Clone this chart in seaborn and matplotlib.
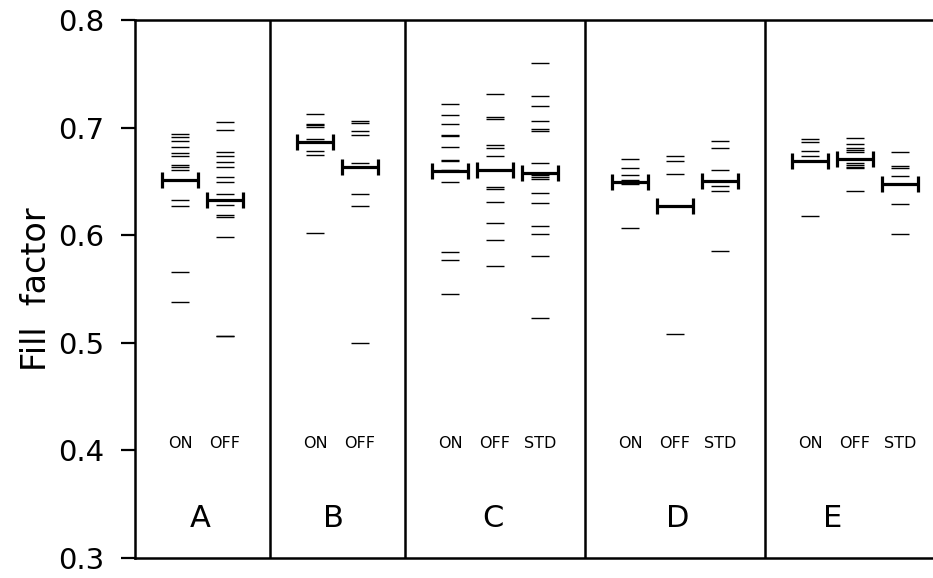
"""
Fill factor per sample set: individual cells as dashes, mean as capped bar.
"""
import numpy as np
import pandas as pd
import matplotlib
matplotlib.use("Agg")
import matplotlib.pyplot as plt
import seaborn as sns

# panel letters and the conditions measured in each
panels = ["A", "B", "C", "D", "E"]
conditions = {
    "A": ["ON", "OFF"],
    "B": ["ON", "OFF"],
    "C": ["ON", "OFF", "STD"],
    "D": ["ON", "OFF", "STD"],
    "E": ["ON", "OFF", "STD"],
}

# individual fill factors
ff_A_on = [0.694, 0.691, 0.688, 0.682, 0.676, 0.674, 0.665, 0.663, 0.661,
           0.633, 0.627, 0.566, 0.538]
ff_A_off = [0.705, 0.698, 0.677, 0.674, 0.668, 0.663, 0.654, 0.649, 0.638,
            0.628, 0.619, 0.617, 0.598, 0.506, 0.506]
ff_B_on = [0.713, 0.703, 0.702, 0.701, 0.689, 0.678, 0.675, 0.602]
ff_B_off = [0.706, 0.704, 0.697, 0.693, 0.667, 0.638, 0.627, 0.500]
ff_C_on = [0.722, 0.712, 0.703, 0.693, 0.692, 0.682, 0.670, 0.669, 0.661,
           0.649, 0.584, 0.577, 0.545]
ff_C_off = [0.731, 0.710, 0.708, 0.684, 0.681, 0.674, 0.645, 0.643, 0.631,
            0.611, 0.596, 0.571]
ff_C_std = [0.760, 0.729, 0.720, 0.706, 0.699, 0.697, 0.667, 0.656, 0.654,
            0.652, 0.639, 0.630, 0.609, 0.601, 0.581, 0.523]
ff_D_on = [0.671, 0.662, 0.656, 0.651, 0.649, 0.648, 0.607]
ff_D_off = [0.674, 0.669, 0.657, 0.508]
ff_D_std = [0.688, 0.681, 0.661, 0.646, 0.641, 0.585]
ff_E_on = [0.689, 0.687, 0.678, 0.674, 0.669, 0.618]
ff_E_off = [0.690, 0.685, 0.681, 0.679, 0.677, 0.667, 0.665, 0.663, 0.662,
            0.641]
ff_E_std = [0.677, 0.664, 0.662, 0.655, 0.629, 0.601]

# group means (capped bars)
means = {
    "A": [0.651, 0.633],
    "B": [0.687, 0.663],
    "C": [0.660, 0.661, 0.658],
    "D": [0.649, 0.627, 0.650],
    "E": [0.669, 0.671, 0.648],
}

values = {
    ("A", "ON"): ff_A_on, ("A", "OFF"): ff_A_off,
    ("B", "ON"): ff_B_on, ("B", "OFF"): ff_B_off,
    ("C", "ON"): ff_C_on, ("C", "OFF"): ff_C_off, ("C", "STD"): ff_C_std,
    ("D", "ON"): ff_D_on, ("D", "OFF"): ff_D_off, ("D", "STD"): ff_D_std,
    ("E", "ON"): ff_E_on, ("E", "OFF"): ff_E_off, ("E", "STD"): ff_E_std,
}

# small nudges of the panel letters relative to the panel centre
letter_shift = [-0.05, -0.1, -0.05, 0.05, -0.5]

# x layout: one slot per condition plus one spare slot per panel
rows, mean_rows, dividers, label_pos = [], [], [], []
start = 0
for k, p in enumerate(panels):
    conds = conditions[p]
    for i, c in enumerate(conds):
        pos = start + i + 1
        for v in values[(p, c)]:
            rows.append({"panel": p, "cond": c, "x": pos, "ff": v})
        mean_rows.append({"x": pos, "ff": means[p][i], "cond": c})
    width = len(conds) + 1
    label_pos.append(start + width / 2 + letter_shift[k])
    start += width
    dividers.append(start)

df = pd.DataFrame(rows)
df_mean = pd.DataFrame(mean_rows)

sns.set_theme(style="white")
plt.rcParams["font.family"] = ["DejaVu Sans"]
plt.rcParams["text.color"] = "black"
plt.rcParams["axes.labelcolor"] = "black"

fig = plt.figure(figsize=(9.33, 5.78), dpi=100)
ax = fig.add_axes([135 / 933, 20 / 578, 1 - 135 / 933, 538 / 578])

sns.scatterplot(data=df, x="x", y="ff", marker="_", s=180, linewidth=1.0,
                color="black", ax=ax, legend=False)
ax.errorbar(df_mean["x"], df_mean["ff"], xerr=0.41, fmt="none",
            ecolor="black", elinewidth=2.3, capsize=5.5, capthick=2.3)

for d in dividers[:-1]:
    ax.axvline(d, color="black", lw=1.8)

# condition and panel labels
for r in mean_rows:
    ax.text(r["x"], 0.406, r["cond"], ha="center", va="center",
            fontsize=11.5, color="black")
for p, lp in zip(panels, label_pos):
    ax.text(lp, 0.337, p, ha="center", va="center", fontsize=22,
            color="black")

ax.set_xlim(0, (933 - 135) / 45)
ax.set_ylim(0.3, 0.8)
ax.set_yticks(np.arange(0.3, 0.81, 0.1))
ax.set_yticklabels(["0.3", "0.4", "0.5", "0.6", "0.7", "0.8"])
ax.set_xticks([])
ax.set_xlabel("")
ax.set_ylabel("Fill  factor", fontsize=24, labelpad=4, color="black")

for side in ["left", "top", "bottom"]:
    ax.spines[side].set_color("black")
    ax.spines[side].set_linewidth(1.8)
ax.spines["right"].set_visible(False)
ax.tick_params(axis="y", direction="out", length=10, width=1.6,
               labelsize=21, pad=12, left=True, colors="black",
               labelcolor="black")

fig.savefig("out.png", dpi=100)
